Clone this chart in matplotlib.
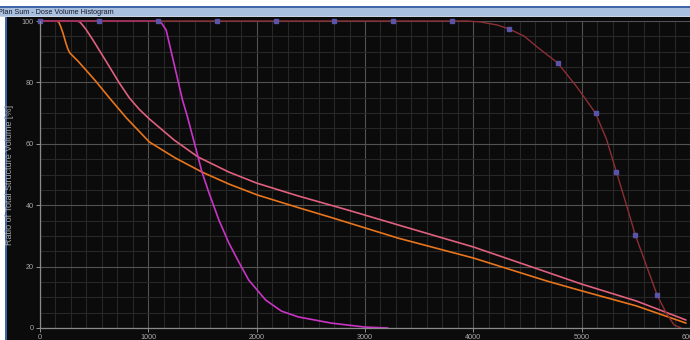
import matplotlib
matplotlib.use("Agg")
import matplotlib.pyplot as plt
from matplotlib.patches import Rectangle
from matplotlib.ticker import MultipleLocator

# values (dose in cGy, volume in %)
orange_dose = [0, 156, 174, 193, 211, 239, 257, 275, 303, 349, 505, 642, 798, 1009, 1248, 1495,
               1743, 2009, 2385, 2688, 3303, 4000, 4679, 5000, 5505, 5963]
orange_vol = [100, 100, 99.6, 98, 96.2, 92.8, 90.9, 89.6, 88.6, 87, 80.8, 74.9, 68.4, 60.6, 55.4, 50.8,
              46.9, 43.3, 39.2, 36.0, 29.3, 22.8, 15.3, 12.1, 7.2, 1.6]

pink_dose = [0, 340, 367, 385, 422, 489, 615, 734, 826, 917, 1009, 1239, 1459, 1743, 2000, 2385,
             2844, 3303, 4000, 4679, 5000, 5505, 5963]
pink_vol = [100, 100, 99.7, 99, 97.4, 93.8, 86.6, 79.7, 74.9, 71.2, 68.1, 61.2, 55.7, 50.8, 47.2, 43,
            38.4, 33.6, 26.4, 18.2, 14.3, 8.8, 2.6]

magenta_dose = [0, 1073, 1101, 1119, 1128, 1165, 1229, 1315, 1361, 1459, 1495, 1560, 1651, 1743,
                1835, 1927, 2083, 2229, 2385, 2688, 3000, 3211]
magenta_vol = [100, 100, 99.8, 99.4, 99, 97, 87.3, 74.3, 68.8, 55.7, 50.8, 44, 35.2, 27.7,
               21.5, 15.6, 9.1, 5.5, 3.6, 1.6, 0.3, 0]

brown_dose = [0, 3945, 4064, 4220, 4330, 4468, 4587, 4780, 4954, 5128, 5229, 5321, 5413, 5495,
              5596, 5697, 5780, 5853, 5917]
brown_vol = [100, 100, 99.7, 98.7, 97.4, 95.1, 91.6, 86.3, 78.6, 70, 61.5, 50.8, 40.1, 30.3,
             20.5, 10.7, 4.9, 1, 0]
brown_mark_dose = [0, 540, 1085, 1630, 2175, 2715, 3255, 3800, 4330, 4780, 5128, 5321, 5495, 5697]
brown_mark_vol = [100, 100, 100, 100, 100, 100, 100, 100, 97.4, 86.3, 70, 50.8, 30.3, 10.7]

x_ticks = [0, 1000, 2000, 3000, 4000, 5000, 6000]
y_ticks = [0, 20, 40, 60, 80, 100]

W, H = 690, 340
fig = plt.figure(figsize=(W / 100, H / 100), dpi=100, facecolor="white")


def px_rect(x0, y0, x1, y1, color):
    # rectangle given in pixel coords measured from the top-left
    fig.patches.append(Rectangle((x0 / W, 1 - y1 / H), (x1 - x0) / W, (y1 - y0) / H,
                                 transform=fig.transFigure, facecolor=color,
                                 edgecolor="none", zorder=-5))


# window chrome
px_rect(0, 6, W, 8, "#3f66a8")
px_rect(0, 8, W, 16, "#a9c0de")
px_rect(0, 16, W, 17, "#c8d4e4")
px_rect(5, 17, 7, H, "#3f66a8")
px_rect(7, 17, W, H, "#0b0b0b")
fig.text(-2 / W, 1 - 12 / H, "Plan Sum - Dose Volume Histogram", fontsize=5.2,
         family="Liberation Sans", color="#1a1a2a", va="center", ha="left")

ax = fig.add_axes([40 / W, 1 - 328 / H, 650 / W, 307 / H])
ax.set_zorder(1)
ax.set_facecolor("#0b0b0b")
ax.set_xlim(0, 5963)
ax.set_ylim(0, 100)

ax.xaxis.set_major_locator(MultipleLocator(1000))
ax.xaxis.set_minor_locator(MultipleLocator(1000 / 7))
ax.yaxis.set_major_locator(MultipleLocator(20))
ax.yaxis.set_minor_locator(MultipleLocator(5))
ax.set_xticks(x_ticks)
ax.set_yticks(y_ticks)
ax.grid(which="major", color="#525252", linewidth=0.8)
ax.grid(which="minor", color="#272727", linewidth=0.8)
ax.set_axisbelow(True)

for s in ["top", "right"]:
    ax.spines[s].set_visible(False)
for s in ["left", "bottom"]:
    ax.spines[s].set_color("#8a8a8a")
    ax.spines[s].set_linewidth(0.9)

ax.tick_params(which="major", colors="#a8a8a8", labelsize=5.2, length=3, width=0.6, pad=1.5)
ax.tick_params(which="minor", length=0)
for lbl in ax.get_xticklabels() + ax.get_yticklabels():
    lbl.set_family("Liberation Sans")

ax.set_xlabel("Dose [cGy]", fontsize=5.5, color="#a8a8a8", family="Liberation Sans")
ax.xaxis.set_label_coords((395 - 40) / 650, -12 / 307)
ax.set_ylabel("Ratio of Total Structure Volume [%]", fontsize=6.5, color="#a8a8a8",
              family="Liberation Sans")
ax.yaxis.set_label_coords((14 - 40) / 650, 0.5)

line_kw = dict(linewidth=1.2, clip_on=False, solid_joinstyle="round", solid_capstyle="round")
ax.plot(orange_dose, orange_vol, color="#e8751c", **line_kw)
ax.plot(pink_dose, pink_vol, color="#e0607e", **line_kw)
ax.plot(magenta_dose, magenta_vol, color="#c934c4", **line_kw)
ax.plot(brown_dose, brown_vol, color="#8c2f35", linewidth=1.0, clip_on=False, solid_joinstyle="round")
ax.plot(brown_mark_dose, brown_mark_vol, linestyle="none", marker="s", markersize=3.2,
        markerfacecolor="#5a54a8", markeredgecolor="#5a54a8", clip_on=False)

fig.savefig("out.png", dpi=100, facecolor="white")
